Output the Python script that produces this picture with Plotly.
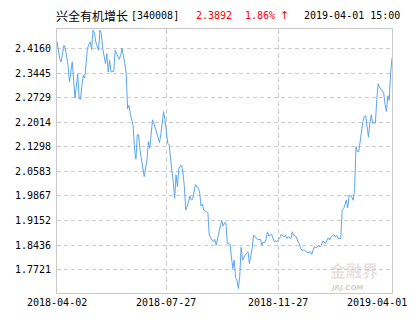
import plotly.graph_objects as go

# ---- data ----
trade_day = [0, 1, 2, 3, 5, 6, 7, 8, 9, 10, 11, 13, 14, 15, 16, 17, 18, 19, 20, 21,
             22, 23, 24, 25, 26, 27, 28, 30, 31, 32, 33, 35, 36, 37, 38, 39, 41, 42, 43, 45,
             46, 47, 49, 50, 51, 52, 53, 54, 55, 56, 57, 58, 59, 60, 61, 62, 63, 65, 66, 67,
             68, 69, 71, 73, 74, 75, 76, 77, 78, 79, 80, 81, 82, 83, 84, 85, 86, 87, 88, 90,
             91, 92, 93, 94, 96, 97, 98, 99, 100, 102, 103, 104, 105, 106, 108, 109, 110, 111, 112, 113,
             114, 115, 116, 117, 119, 120, 121, 122, 123, 124, 125, 126, 127, 128, 129, 130, 131, 132, 133, 134,
             135, 136, 137, 138, 139, 140, 141, 142, 143, 144, 145, 146, 147, 148, 149, 150, 151, 152, 153, 155,
             156, 157, 158, 159, 160, 161, 162, 164, 165, 166, 167, 169, 170, 171, 173, 174, 175, 176, 177, 179,
             180, 181, 183, 184, 185, 186, 187, 189, 190, 191, 192, 194, 195, 196, 197, 198, 200, 201, 202, 203,
             204, 205, 206, 207, 208, 209, 210, 211, 212, 213, 214, 215, 216, 217, 218, 219, 220, 221, 222, 223,
             224, 225, 226, 227, 228, 229, 230, 231, 232, 233, 234, 235, 236, 237, 238, 239, 240, 241, 242]
nav = [2.4380, 2.4072, 2.3876, 2.3779, 2.4265, 2.4169, 2.3973, 2.3680, 2.3194, 2.3487, 2.3779, 2.2726, 2.3194, 2.3437, 2.2705, 2.2685, 2.3095, 2.3387, 2.3311, 2.3779,
       2.4169, 2.4286, 2.4365, 2.4140, 2.4710, 2.4637, 2.4365, 2.4119, 2.4710, 2.4608, 2.4169, 2.3730, 2.4022, 2.3487, 2.3826, 2.3487, 2.3504, 2.4119, 2.4022, 2.3856,
       2.3973, 2.4169, 2.3730, 2.3437, 2.2413, 2.2509, 2.2250, 2.2090, 2.1924, 2.1242, 2.0939, 2.1652, 2.1652, 2.1200, 2.0980, 2.0750, 2.0431, 2.0920, 2.1456, 2.1262,
       2.1650, 2.2091, 2.1848, 2.1505, 2.1426, 2.1652, 2.2091, 2.2334, 2.2091, 2.1702, 2.1409, 2.1359, 2.0920, 2.0600, 2.0285, 1.9799, 2.0481, 2.0139, 2.0677, 2.0774,
       2.0531, 2.0139, 1.9457, 1.9554, 1.9866, 1.9749, 1.9770, 2.0062, 2.0200, 2.0092, 1.9992, 1.9574, 1.9632, 1.9457, 1.9407, 1.9378, 1.8725, 1.8628, 1.8580, 1.8529,
       1.8600, 1.8433, 1.8676, 1.8822, 1.9144, 1.8988, 1.9085, 1.9085, 1.8482, 1.8470, 1.8462, 1.8090, 1.7750, 1.7993, 1.7487, 1.7408, 1.7165, 1.7505, 1.8365, 1.7993,
       1.8090, 1.8150, 1.8207, 1.8236, 1.7896, 1.8140, 1.8336, 1.8725, 1.8696, 1.8628, 1.8599, 1.8599, 1.8599, 1.8433, 1.8529, 1.8500, 1.8599, 1.8822, 1.8696, 1.8754,
       1.8658, 1.8529, 1.8558, 1.8529, 1.8599, 1.8650, 1.8745, 1.8675, 1.8725, 1.8628, 1.8675, 1.8628, 1.8822, 1.8725, 1.8675, 1.8529, 1.8482, 1.8336, 1.8286, 1.8286,
       1.8236, 1.8218, 1.8236, 1.8160, 1.8286, 1.8383, 1.8353, 1.8412, 1.8383, 1.8433, 1.8550, 1.8482, 1.8579, 1.8646, 1.8579, 1.8675, 1.8745, 1.8675, 1.8725, 1.8628,
       1.8628, 1.8628, 1.9457, 1.9486, 1.9603, 1.9749, 1.9524, 1.9888, 1.9870, 1.9840, 1.9742, 2.0084, 2.1309, 2.1163, 2.1163, 2.1505, 2.1818, 2.2041, 2.2187, 2.2207,
       2.1895, 2.1584, 2.1994, 2.2237, 2.1994, 2.1994, 2.1994, 2.2676, 2.3144, 2.3048, 2.2989, 2.2948, 2.2872, 2.2530, 2.2334, 2.2793, 2.2656, 2.3456, 2.3892]

y_ticks = [1.7721, 1.8436, 1.9152, 1.9867, 2.0583, 2.1298, 2.2014, 2.2729, 2.3445, 2.4160]
x_tick_days = [0, 79, 160, 242]
x_tick_labels = ["2018-04-02", "2018-07-27", "2018-11-27", "2019-04-01"]

fund_name = "兴全有机增长"
fund_code = "[340008]"
last_nav = "2.3892"
change_pct = "1.86%"
stamp = "2019-04-01 15:00"

# ---- layout constants ----
W, H = 415, 330
L, R, T, B = 57, 23, 29, 37
PW = W - L - R
PH = H - T - B
MONO = "DejaVu Sans Mono"
GRID = "#cccccc"


def px_x(p):
    return (p - L) / PW


def px_y(p):
    return 1 - (p - T) / PH


fig = go.Figure()
fig.add_trace(go.Scatter(
    x=trade_day, y=nav, mode="lines",
    line=dict(color="#5aa6f2", width=1),
    hoverinfo="skip", showlegend=False,
))

annotations = []
# x tick labels as annotations (last one kept inside the canvas)
for d, lab in zip(x_tick_days, x_tick_labels):
    if d == x_tick_days[-1]:
        annotations.append(dict(x=px_x(409), xref="paper", y=px_y(302), yref="paper",
                                text=lab, showarrow=False, xanchor="right", yanchor="middle",
                                font=dict(family=MONO, size=10, color="#000")))
    else:
        annotations.append(dict(x=d, xref="x", y=px_y(302), yref="paper",
                                text=lab, showarrow=False, xanchor="center", yanchor="middle",
                                font=dict(family=MONO, size=10, color="#000")))

ty = px_y(16)
annotations += [
    dict(x=px_x(54), y=ty, text=fund_name, font=dict(family="Noto Sans CJK SC", size=12, color="#000")),
    dict(x=px_x(129), y=ty, text=fund_code, font=dict(family=MONO, size=10, color="#000")),
    dict(x=px_x(194), y=ty, text=last_nav, font=dict(family=MONO, size=10, color="#ff0000")),
    dict(x=px_x(243), y=ty, text=change_pct, font=dict(family=MONO, size=10, color="#ff0000")),
    dict(x=px_x(278), y=ty, text="↑", font=dict(family="DejaVu Sans", size=11, color="#ff0000")),
    dict(x=px_x(302), y=ty, text=stamp, font=dict(family=MONO, size=10, color="#000")),
]
for a in annotations[-6:]:
    a.update(xref="paper", yref="paper", xanchor="left", yanchor="middle", showarrow=False)

# watermark
annotations += [
    dict(x=px_x(328), y=px_y(270), xref="paper", yref="paper", text="<b>金融界</b>",
         showarrow=False, xanchor="left", yanchor="middle",
         font=dict(family="Noto Sans CJK SC", size=16, color="rgba(215,200,200,0.55)")),
    dict(x=px_x(328), y=px_y(287.5), xref="paper", yref="paper", text="<b><i>JRJ.COM</i></b>",
         showarrow=False, xanchor="left", yanchor="middle",
         font=dict(family="DejaVu Sans", size=7, color="rgba(200,185,185,0.7)")),
]

fig.update_layout(
    width=W, height=H,
    margin=dict(l=L, r=R, t=T, b=B, pad=0),
    paper_bgcolor="white", plot_bgcolor="white",
    annotations=annotations,
    xaxis=dict(range=[0, 242], tickvals=x_tick_days, showticklabels=False,
               showgrid=True, gridcolor=GRID, griddash="5px,3px", gridwidth=1,
               showline=True, linecolor="#c8c8c8", linewidth=1, mirror=True,
               zeroline=False, ticks=""),
    yaxis=dict(range=[1.7036, 2.4740], tickvals=y_ticks, tickformat=".4f",
               showgrid=True, gridcolor=GRID, griddash="4px,3px", gridwidth=1,
               showline=True, linecolor="#c8c8c8", linewidth=1, mirror=True,
               zeroline=False, ticks="", ticklabelstandoff=3,
               tickfont=dict(family=MONO, size=10, color="#000")),
)

fig.write_html("out.html")
